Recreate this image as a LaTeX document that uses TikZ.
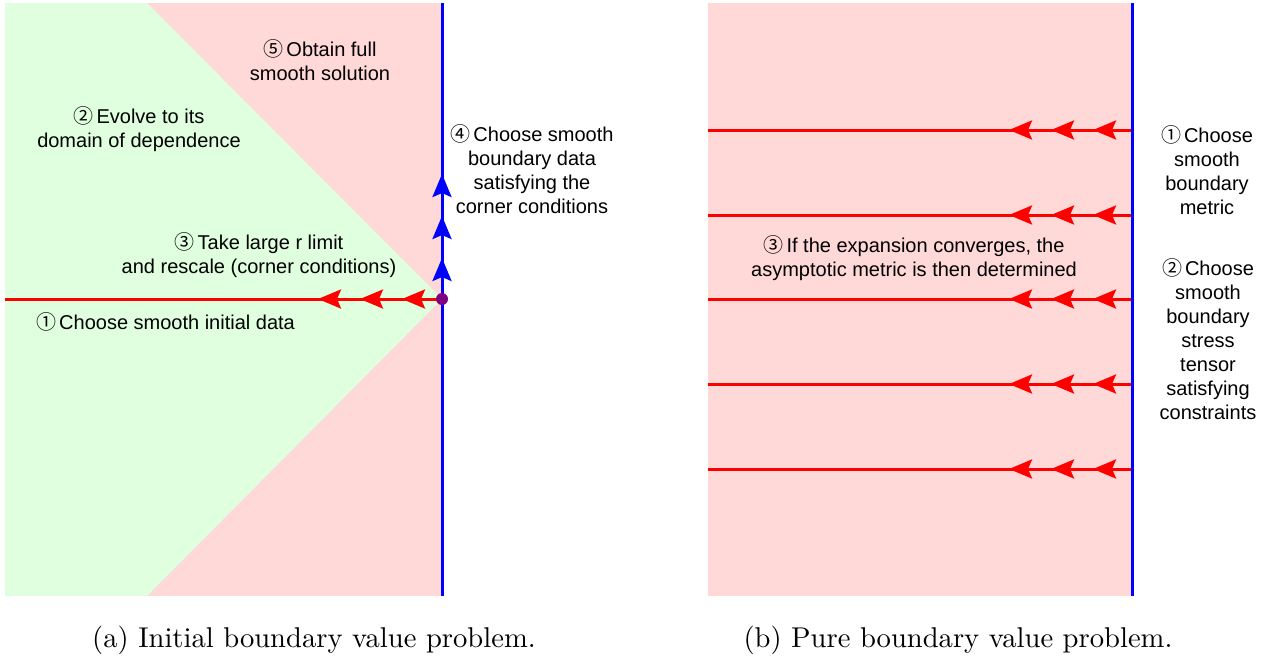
\documentclass[tikz,border=0pt]{standalone}
\usepackage{fontspec}
\usepackage{tikz}
\usetikzlibrary{arrows.meta}

\newfontfamily\labelfont{Liberation Sans}
\newfontfamily\numfont{Noto Sans CJK SC}
\newfontfamily\capfont{lmroman10-regular}[Extension=.otf]

\definecolor{regiongreen}{RGB}{223,255,223}
\definecolor{regionpink}{RGB}{255,216,216}
\definecolor{cornerpurple}{RGB}{128,0,128}

\newcommand{\stepno}[1]{{\numfont\fontsize{20}{24}\selectfont #1}\hspace{3pt}}

\tikzstyle{steplabel} = [
    align=center,
    inner sep=0pt,
    font=\labelfont\fontsize{20}{24}\selectfont
]
\tikzstyle{caption} = [
    inner sep=0pt,
    font=\capfont\fontsize{28.6}{34}\selectfont
]
\tikzstyle{dataline} = [red, line width=3pt]
\tikzstyle{bdryline} = [blue, line width=3pt]
\tikzstyle{redarrow} = [red, line width=3pt, -{Stealth[length=23pt,width=19pt,inset=4pt]}]
\tikzstyle{bluearrow} = [blue, line width=3pt, -{Stealth[length=23pt,width=19pt,inset=4pt]}]

\begin{document}
\begin{tikzpicture}[x=1pt, y=-1pt]
\useasboundingbox (0,0) rectangle (1265,656);

% (a) initial boundary value problem
\coordinate (corner) at (442,299);
\coordinate (atop) at (442,3);
\coordinate (abot) at (442,596);
\coordinate (aleft) at (5,299);

\fill[regionpink] (5,3) rectangle (abot);
\fill[regiongreen] (5,3) -- (147,3) -- (corner) -- (147,596) -- (5,596) -- cycle;

\draw[dataline] (aleft) -- (corner);
\foreach \x in {318,360,402}
    \draw[redarrow] (\x+23,299) -- (\x,299);

\draw[bdryline] (abot) -- (atop);
\foreach \y in {174,216,258}
    \draw[bluearrow] (442,\y+23) -- (442,\y);

\fill[cornerpurple] (corner) circle (6pt);

\node (obtain) [steplabel] at (320,60)
{\stepno{⑤}Obtain full\\smooth solution};
\node (evolve) [steplabel] at (139,129)
{\stepno{②}Evolve to its\\domain of dependence};
\node (limit) [steplabel] at (259,255)
{\stepno{③}Take large r limit\\and rescale (corner conditions)};
\node (initial) [steplabel, anchor=base west] at (36,329)
{\stepno{①}Choose smooth initial data};
\node (bdrydata) [steplabel] at (532,169)
{\stepno{④}Choose smooth\\boundary data\\satisfying the\\corner conditions};

\node (capa) [caption, anchor=base] at (314,647)
{(a) Initial boundary value problem.};

% (b) pure boundary value problem
\coordinate (btop) at (1132,3);
\coordinate (bbot) at (1132,596);

\fill[regionpink] (708,3) rectangle (bbot);

\foreach \y in {130,215,299,384,469} {
    \draw[dataline] (708,\y) -- (1132,\y);
    \foreach \x in {1009,1051,1093}
        \draw[redarrow] (\x+23,\y) -- (\x,\y);
}

\draw[bdryline] (bbot) -- (btop);

\node (metric) [steplabel] at (1207,170)
{\stepno{①}Choose\\smooth\\boundary\\metric};
\node (stress) [steplabel] at (1208,339)
{\stepno{②}Choose\\smooth\\boundary\\stress\\tensor\\satisfying\\constraints};
\node (converge) [steplabel] at (914,258)
{\stepno{③}If the expansion converges, the\\asymptotic metric is then determined};

\node (capb) [caption, anchor=base] at (958,647)
{(b) Pure boundary value problem.};

\end{tikzpicture}
\end{document}
